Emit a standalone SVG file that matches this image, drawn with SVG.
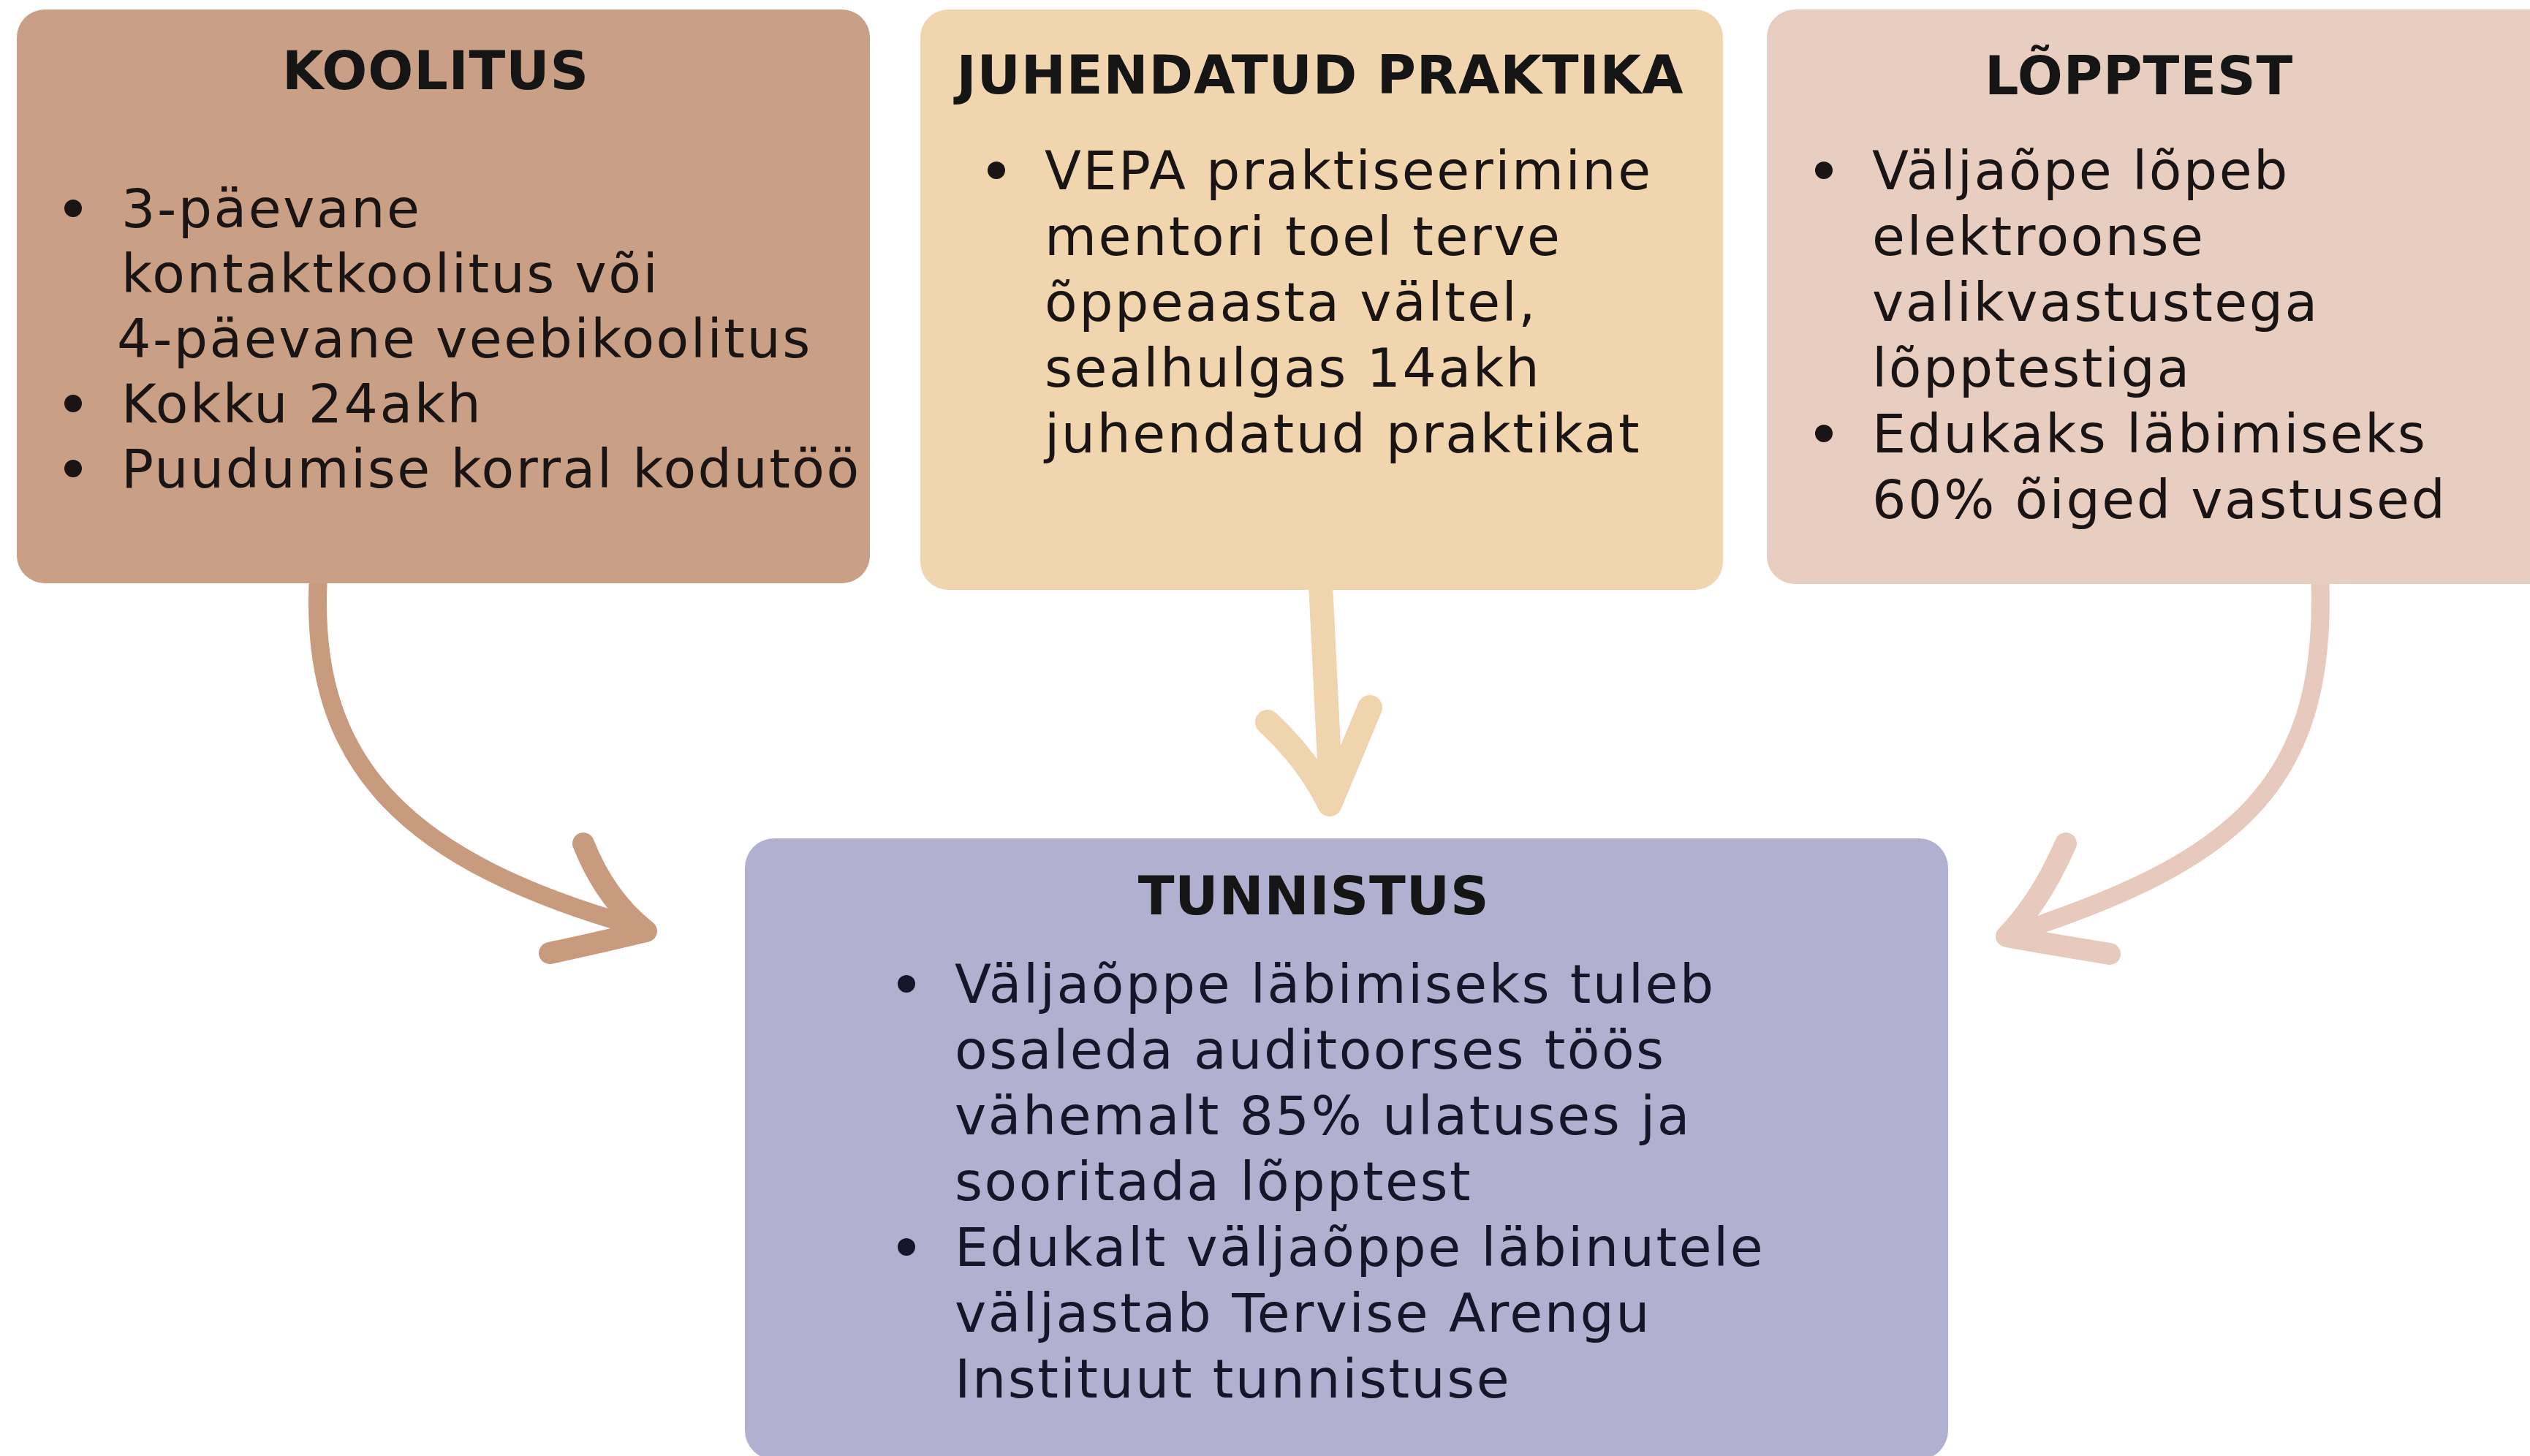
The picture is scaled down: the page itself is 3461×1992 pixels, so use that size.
<svg xmlns="http://www.w3.org/2000/svg" width="3461" height="1992" viewBox="0 0 3461 1992">
<style>
.t{font-family:"DejaVu Sans","Liberation Sans",sans-serif;font-weight:bold;font-size:73px;letter-spacing:0.9px;text-anchor:middle;fill:#151515}
.b{font-family:"DejaVu Sans","Liberation Sans",sans-serif;font-size:73px;letter-spacing:2.5px;fill:#1a1414}
.bt{fill:#16162a}
.c{fill:none;stroke-linecap:round;stroke-linejoin:round}
</style>
<rect width="3461" height="1992" fill="#ffffff"/>
<g id="connectors">
  <g stroke="#C99B7E">
    <path class="c" stroke-width="25" d="M435 800 C425 1050 560 1180 872 1268"/>
    <path class="c" stroke-width="30" d="M798 1154 Q828 1230 884 1274 Q818 1290 752 1304"/>
  </g>
  <g stroke="#EFD4AE">
    <path class="c" stroke-width="33" d="M1807 808 L1821 1092"/>
    <path class="c" stroke-width="34" d="M1734 988 Q1790 1040 1819 1100 Q1848 1030 1874 968"/>
  </g>
  <g stroke="#E7C9BD">
    <path class="c" stroke-width="25" d="M3174 800 C3182 1080 3050 1180 2758 1276"/>
    <path class="c" stroke-width="30" d="M2826 1154 Q2792 1232 2745 1281 Q2818 1294 2886 1305"/>
  </g>
</g>
<g id="node-koolitus">
  <rect x="23" y="13" width="1167" height="785" rx="38" fill="#C99F85"/>
  <text class="t" x="596" y="122">KOOLITUS</text>
  <circle cx="100" cy="285" r="12" fill="#1a1414"/>
  <circle cx="100" cy="552" r="12" fill="#1a1414"/>
  <circle cx="100" cy="641" r="12" fill="#1a1414"/>
  <text class="b" x="166" y="311">3-päevane</text>
  <text class="b" x="166" y="400">kontaktkoolitus või</text>
  <text class="b" x="160" y="489">4-päevane veebikoolitus</text>
  <text class="b" x="166" y="578">Kokku 24akh</text>
  <text class="b" x="166" y="667">Puudumise korral kodutöö</text>
</g>
<g id="node-praktika">
  <rect x="1259" y="13" width="1098" height="794" rx="38" fill="#F0D5AF"/>
  <text class="t" x="1806" y="128">JUHENDATUD PRAKTIKA</text>
  <circle cx="1363" cy="233" r="12" fill="#1a1414"/>
  <text class="b" x="1429" y="259">VEPA praktiseerimine</text>
  <text class="b" x="1429" y="349">mentori toel terve</text>
  <text class="b" x="1429" y="439">õppeaasta vältel,</text>
  <text class="b" x="1429" y="529">sealhulgas 14akh</text>
  <text class="b" x="1429" y="619">juhendatud praktikat</text>
</g>
<g id="node-lopptest">
  <rect x="2417" y="13" width="1100" height="786" rx="38" fill="#E8CDC1"/>
  <text class="t" x="2926" y="129">LÕPPTEST</text>
  <circle cx="2495" cy="233" r="12" fill="#1a1414"/>
  <circle cx="2495" cy="593" r="12" fill="#1a1414"/>
  <text class="b" x="2561" y="259">Väljaõpe lõpeb</text>
  <text class="b" x="2561" y="349">elektroonse</text>
  <text class="b" x="2561" y="439">valikvastustega</text>
  <text class="b" x="2561" y="529">lõpptestiga</text>
  <text class="b" x="2561" y="619">Edukaks läbimiseks</text>
  <text class="b" x="2561" y="709">60% õiged vastused</text>
</g>
<g id="node-tunnistus">
  <rect x="1019" y="1147" width="1646" height="850" rx="40" fill="#B1B0D0"/>
  <text class="t" x="1797" y="1251">TUNNISTUS</text>
  <circle cx="1240" cy="1346" r="12" fill="#16162a"/>
  <circle cx="1240" cy="1706" r="12" fill="#16162a"/>
  <text class="b bt" x="1306" y="1372">Väljaõppe läbimiseks tuleb</text>
  <text class="b bt" x="1306" y="1462">osaleda auditoorses töös</text>
  <text class="b bt" x="1306" y="1552">vähemalt 85% ulatuses ja</text>
  <text class="b bt" x="1306" y="1642">sooritada lõpptest</text>
  <text class="b bt" x="1306" y="1732">Edukalt väljaõppe läbinutele</text>
  <text class="b bt" x="1306" y="1822">väljastab Tervise Arengu</text>
  <text class="b bt" x="1306" y="1912">Instituut tunnistuse</text>
</g>
</svg>
